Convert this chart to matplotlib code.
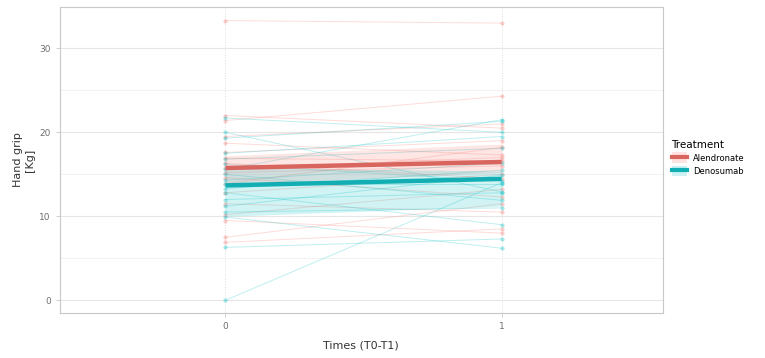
import matplotlib.pyplot as plt
from matplotlib.patches import Rectangle
from matplotlib.lines import Line2D
import numpy as np

# Hand grip at T0 (x=0) and T1 (x=1), one pair per patient
times = [0, 1]
alen_t0 = [33.3, 22.0, 21.4, 19.5, 18.7, 17.6, 16.9, 16.3, 15.7, 15.2, 14.6, 13.9, 12.8, 11.5, 10.2, 9.5, 7.5, 6.9]
alen_t1 = [33.0, 20.5, 24.3, 21.0, 17.3, 19.0, 16.6, 14.5, 17.0, 16.0, 12.3, 18.2, 15.0, 10.5, 13.2, 8.0, 11.5, 8.5]
deno_t0 = [0.0, 6.3, 9.9, 10.5, 11.2, 12.0, 12.8, 13.3, 13.8, 14.3, 15.0, 15.6, 16.2, 16.8, 17.5, 19.3, 20.0, 21.7]
deno_t1 = [14.0, 7.3, 6.2, 11.0, 14.9, 12.8, 9.0, 15.5, 13.8, 16.3, 11.9, 21.5, 14.2, 18.1, 19.5, 21.3, 12.9, 20.0]

# confidence band of the fitted trend (low, high) at T0 and T1
alen_lo = [13.8, 15.2]
alen_hi = [17.2, 18.6]
deno_lo = [10.0, 11.2]
deno_hi = [15.8, 15.4]

groups = ['Alendronate', 'Denosumab']
col_alen = '#F8766D'
col_deno = '#00BFC4'
fit_alen = '#d9655f'
fit_deno = '#12aeb3'

fig = plt.figure(figsize=(7.65, 3.58), dpi=100)
ax = fig.add_axes([0.078, 0.126, 0.789, 0.854])

for t0, t1, c in [(alen_t0, alen_t1, col_alen), (deno_t0, deno_t1, col_deno)]:
    for a, b in zip(t0, t1):
        ax.plot(times, [a, b], color=c, lw=0.7, alpha=0.25, zorder=2)
        ax.scatter(times, [a, b], color=c, s=9, alpha=0.35, lw=0, zorder=3)

for t0, t1, lo, hi, c, fc in [(alen_t0, alen_t1, alen_lo, alen_hi, col_alen, fit_alen),
                              (deno_t0, deno_t1, deno_lo, deno_hi, col_deno, fit_deno)]:
    ax.fill_between(times, lo, hi, color=c, alpha=0.18, lw=0, zorder=4)
    ax.plot(times, [np.mean(t0), np.mean(t1)], color=fc, lw=3.2,
            solid_capstyle='butt', zorder=5)

ax.set_xlim(-0.6, 1.585)
ax.set_ylim(-1.5, 34.9)
ax.set_xticks([0, 1])
ax.set_yticks([0, 10, 20, 30])
ax.set_yticks([5, 15, 25], minor=True)
ax.grid(True, which='major', axis='y', color='#e6e6e6', lw=0.8)
ax.grid(True, which='minor', axis='y', color='#f0f0f0', lw=0.6)
ax.grid(True, which='major', axis='x', color='#dddddd', lw=0.7, ls=':')
ax.set_axisbelow(True)
for s in ax.spines.values():
    s.set_color('#c8c8c8')
    s.set_linewidth(0.8)
ax.tick_params(axis='both', which='major', colors='#c8c8c8', labelcolor='#6e6e6e',
               labelsize=6.5, length=3, width=0.6)
ax.tick_params(axis='y', which='minor', length=0)

fig.text(361 / 765, 1 - 346 / 358, 'Times (T0-T1)', fontsize=8, color='#333333',
         ha='center', va='center')
fig.text(24 / 765, 1 - 160 / 358, 'Hand grip\n[Kg]', fontsize=8, color='#333333',
         ha='center', va='center', rotation=90, multialignment='center')

# legend
handles = [(Rectangle((0, 0), 1, 1, color=col_alen, alpha=0.2, lw=0), Line2D([], [], color=fit_alen, lw=3)),
           (Rectangle((0, 0), 1, 1, color=col_deno, alpha=0.2, lw=0), Line2D([], [], color=fit_deno, lw=3))]
leg = fig.legend(handles, groups, title='Treatment', loc='upper left',
                 bbox_to_anchor=(0.868, 0.63), frameon=False, fontsize=6,
                 title_fontsize=7.5, handlelength=1.8, handleheight=1.6,
                 labelspacing=0.3, alignment='left')

fig.savefig('out.png', dpi=100)
